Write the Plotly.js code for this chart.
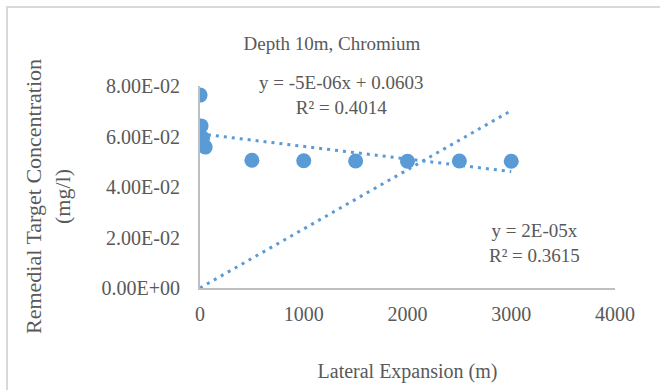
<!DOCTYPE html>
<html>
<head>
<meta charset="utf-8">
<script src="https://cdn.plot.ly/plotly-3.0.1.min.js"></script>
<style>html,body{margin:0;padding:0;background:#fff;}#chart{width:660px;height:390px;}</style>
</head>
<body>
<div id="chart"></div>
<script>
// Data
const lateralExpansion = [1, 10, 25, 50, 500, 1000, 1500, 2000, 2500, 3000];
const concentration = [0.0764, 0.0642, 0.0594, 0.0558, 0.0506, 0.0504, 0.0503, 0.0502, 0.0503, 0.0502];
const xTickVals = [0, 1000, 2000, 3000, 4000];
const xTickText = ['0', '1000', '2000', '3000', '4000'];
const yTickVals = [0, 0.02, 0.04, 0.06, 0.08];
const yTickText = ['0.00E+00', '2.00E-02', '4.00E-02', '6.00E-02', '8.00E-02'];
const trendRange = [0, 3000];
const eq1 = ['y = -5E-06x + 0.0603', 'R² = 0.4014'];
const eq2 = ['y = 2E-05x', 'R² = 0.3615'];
const yTitle = ['Remedial Target Concentration', '(mg/l)'];

// Least-squares trendlines computed from the data
const n = lateralExpansion.length;
const mx = lateralExpansion.reduce((a, b) => a + b, 0) / n;
const my = concentration.reduce((a, b) => a + b, 0) / n;
let sxy = 0, sxx = 0, sxy0 = 0, sxx0 = 0;
for (let i = 0; i < n; i++) {
  sxy += (lateralExpansion[i] - mx) * (concentration[i] - my);
  sxx += (lateralExpansion[i] - mx) ** 2;
  sxy0 += lateralExpansion[i] * concentration[i];
  sxx0 += lateralExpansion[i] ** 2;
}
const slope1 = sxy / sxx, icpt1 = my - slope1 * mx;
const slope0 = sxy0 / sxx0;

const blue = '#5B9BD5';
const font = 'Liberation Serif';
const grey = '#595959';

const traces = [
  {x: trendRange, y: trendRange.map(v => icpt1 + slope1 * v), mode: 'lines',
   line: {color: blue, width: 3, dash: '3px,5px'}, hoverinfo: 'skip'},
  {x: trendRange, y: trendRange.map(v => slope0 * v), mode: 'lines',
   line: {color: blue, width: 3, dash: '3px,5px'}, hoverinfo: 'skip'},
  {x: lateralExpansion, y: concentration, mode: 'markers',
   marker: {color: blue, size: 15}}
];

const layout = {
  width: 660, height: 390,
  margin: {l: 200, r: 45, t: 86, b: 102},
  showlegend: false,
  paper_bgcolor: '#fff', plot_bgcolor: '#fff',
  font: {family: font, color: grey},
  title: {text: 'Depth 10m, Chromium', font: {family: font, size: 19, color: grey},
          x: 0.503, xanchor: 'center', y: 0.89, yanchor: 'middle'},
  xaxis: {range: [0, 4000], tickvals: xTickVals, ticktext: xTickText,
          showgrid: false, zeroline: false, showline: true, linecolor: '#bfbfbf', linewidth: 2,
          ticks: '', ticklabelstandoff: 7, tickfont: {family: font, size: 20, color: grey},
          title: {text: 'Lateral Expansion (m)', font: {family: font, size: 20, color: grey}, standoff: 40}},
  yaxis: {range: [0, 0.08], tickvals: yTickVals, ticktext: yTickText,
          showgrid: false, zeroline: false, showline: true, linecolor: '#bfbfbf', linewidth: 2,
          ticks: '', ticklabelstandoff: 14, tickfont: {family: font, size: 20, color: grey}},
  annotations: [
    {xref: 'paper', yref: 'paper', x: (341 - 200) / 415, y: (288 - 95) / 202, xanchor: 'center', yanchor: 'middle',
     text: eq1.join('<br>'), showarrow: false, align: 'center', font: {family: font, size: 19, color: grey}},
    {xref: 'paper', yref: 'paper', x: (534 - 200) / 415, y: (288 - 243) / 202, xanchor: 'center', yanchor: 'middle',
     text: eq2.join('<br>'), showarrow: false, align: 'center', font: {family: font, size: 19, color: grey}},
    {xref: 'paper', yref: 'paper', x: (48 - 200) / 415, y: (288 - 197) / 202, xanchor: 'center', yanchor: 'middle',
     text: yTitle.join('<br>'), textangle: -90, showarrow: false, align: 'center', font: {family: font, size: 22, color: grey}}
  ],
  shapes: [
    {type: 'rect', xref: 'paper', yref: 'paper', x0: (7 - 200) / 415, x1: (680 - 200) / 415,
     y0: (288 - 400) / 202, y1: (288 - 7) / 202, line: {color: '#d9d9d9', width: 2}, layer: 'below'}
  ]
};

Plotly.newPlot('chart', traces, layout, {displayModeBar: false, staticPlot: true});
</script>
</body>
</html>
